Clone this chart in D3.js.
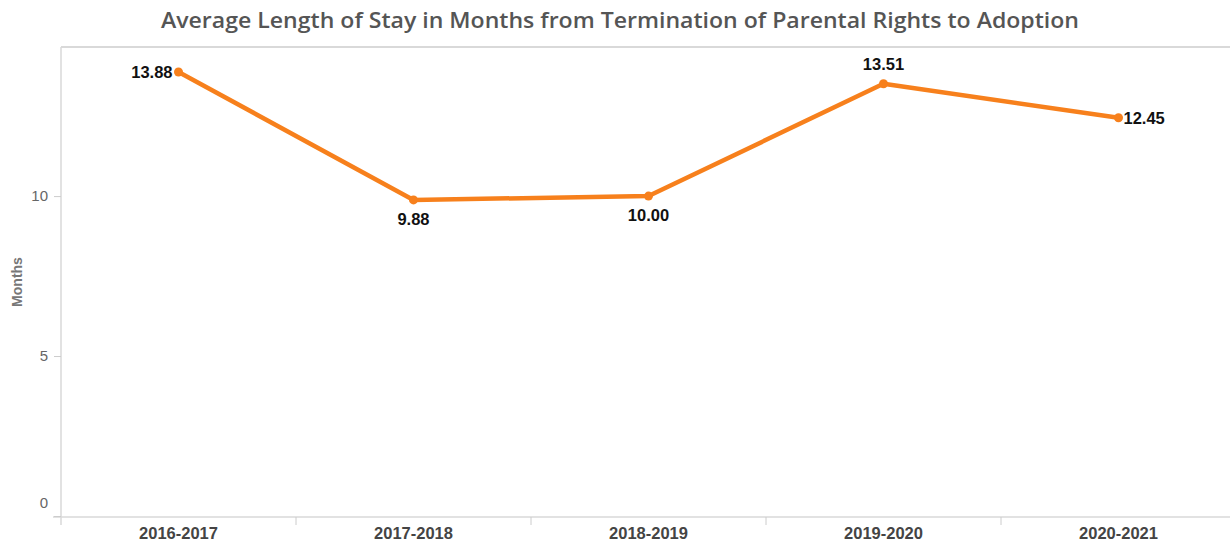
<!DOCTYPE html>
<html><head><meta charset="utf-8">
<script src="https://cdn.jsdelivr.net/npm/d3@7"></script>
<style>body{margin:0;background:#fff}svg{display:block}</style>
</head><body>
<svg id="c" width="1230" height="545"></svg>
<script>
const categories = ["2016-2017","2017-2018","2018-2019","2019-2020","2020-2021"];
const values = [13.88, 9.88, 10.00, 13.51, 12.45];
const yTicks = [0, 5, 10];
const labelPos = ["left","below","below","above","right"];

const svg = d3.select("#c");
const m = {l:61, t:47, r:1236, b:516};
const x = d3.scaleBand().domain(categories).range([m.l, m.r]);
const y = d3.scaleLinear().domain([0, 14.66]).range([m.b, m.t]);

svg.append("text").attr("x",620).attr("y",28).attr("text-anchor","middle")
  .attr("font-family","Open Sans").attr("font-weight",600).attr("font-size",22)
  .attr("fill","#555").attr("textLength",918).attr("lengthAdjust","spacingAndGlyphs")
  .text("Average Length of Stay in Months from Termination of Parental Rights to Adoption");

// frame
svg.append("line").attr("x1",m.l).attr("x2",1230).attr("y1",m.t).attr("y2",m.t).attr("stroke","#d9d9d9").attr("stroke-width",2);
svg.append("line").attr("x1",m.l).attr("x2",m.l).attr("y1",m.t).attr("y2",m.b+9).attr("stroke","#d9d9d9").attr("stroke-width",1.5);
svg.append("line").attr("x1",53).attr("x2",1230).attr("y1",m.b+1).attr("y2",m.b+1).attr("stroke","#d9d9d9").attr("stroke-width",1.5);

// y axis
const ya = svg.append("g").attr("transform",`translate(${m.l},0)`)
  .call(d3.axisLeft(y).tickValues(yTicks).tickSize(7).tickPadding(6));
ya.select(".domain").remove();
ya.selectAll(".tick line").attr("stroke","#ccc");
ya.selectAll(".tick text").attr("font-family","Liberation Sans, Arial").attr("font-size",15).attr("fill","#666")
  .attr("dy", d => d===0 ? "-0.55em" : "0.32em");

svg.append("text").attr("transform","translate(22,282) rotate(-90)").attr("text-anchor","middle")
  .attr("font-family","Liberation Sans, Arial").attr("font-weight","bold").attr("font-size",14).attr("fill","#777").text("Months");

// x axis
const xa = svg.append("g").attr("transform",`translate(0,${m.b+1})`)
  .call(d3.axisBottom(x).tickSize(0).tickPadding(10));
xa.select(".domain").remove();
xa.selectAll(".tick text").attr("font-family","Liberation Sans, Arial").attr("font-weight","bold").attr("font-size",16.5).attr("fill","#444");
svg.append("g").selectAll("line").data(categories.slice(1)).join("line")
  .attr("x1",d=>x(d)).attr("x2",d=>x(d)).attr("y1",m.b+1).attr("y2",m.b+9).attr("stroke","#ccc");

const cx = d => x(d) + x.bandwidth()/2;
const line = d3.line().x((d,i)=>cx(categories[i])).y(d=>y(d));
svg.append("path").datum(values).attr("d",line).attr("fill","none").attr("stroke","#f7801c").attr("stroke-width",4.5).attr("stroke-linejoin","round");
svg.append("g").selectAll("circle").data(values).join("circle")
  .attr("cx",(d,i)=>cx(categories[i])).attr("cy",d=>y(d)).attr("r",4.5).attr("fill","#f7801c");

svg.append("g").selectAll("text").data(values).join("text")
  .attr("font-family","Liberation Sans, Arial").attr("font-weight","bold").attr("font-size",16.5).attr("fill","#111")
  .attr("x",(d,i)=>{const c=cx(categories[i]); const p=labelPos[i]; return p==="left"?c-6:p==="right"?c+5:c;})
  .attr("y",(d,i)=>{const p=labelPos[i]; const yy=y(d); return p==="below"?yy+25:p==="above"?yy-14:yy+6;})
  .attr("text-anchor",(d,i)=>labelPos[i]==="left"?"end":labelPos[i]==="right"?"start":"middle")
  .text(d=>d.toFixed(2));
</script>
</body></html>
